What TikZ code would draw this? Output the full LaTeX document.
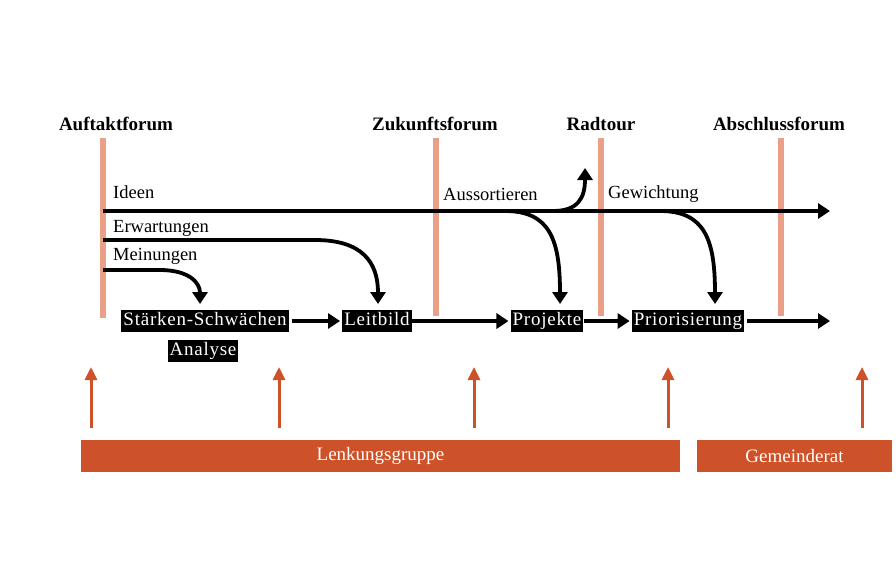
\documentclass[tikz,border=0pt]{standalone}
\usepackage{fontspec}
\setmainfont{Liberation Serif}
\usetikzlibrary{arrows.meta}
\definecolor{pinkbar}{RGB}{233,160,135}
\definecolor{rust}{RGB}{205,82,42}
\begin{document}
\begin{tikzpicture}[x=1pt,y=-1pt,
  title/.style={font=\fontsize{19}{19}\selectfont\bfseries, inner sep=0pt},
  lbl/.style={font=\fontsize{18.5}{18.5}\selectfont, inner sep=0pt, anchor=west},
  blk/.style={fill=black, text=white, font=\fontsize{19}{19}\selectfont\addfontfeature{LetterSpace=4}, inner xsep=2pt, inner ysep=2.5pt, text height=13pt, text depth=4pt},
  phase/.style={draw=pinkbar, line width=6pt},
  flow/.style={line width=3.8pt, -{Triangle[width=15pt,length=12pt]}},
  up/.style={draw=rust, line width=3pt, -{Triangle[width=12pt,length=13pt]}},
  bar/.style={fill=rust, text=white, font=\fontsize{19}{19}\selectfont, inner sep=0pt, minimum height=32pt}
]
\useasboundingbox (0,0) rectangle (896,571);
\fill[white] (0,0) rectangle (896,571);
% titles
\node[title] (t1) at (116,124) {Auftaktforum};
\node[title] (t2) at (435,124) {Zukunftsforum};
\node[title] (t3) at (601,124) {Radtour};
\node[title] (t4) at (779,124) {Abschlussforum};
% phase bars
\coordinate (p1a) at (103,138); \coordinate (p1b) at (103,318);
\coordinate (p2a) at (436,138); \coordinate (p2b) at (436,316);
\coordinate (p3a) at (601,138); \coordinate (p3b) at (601,316);
\coordinate (p4a) at (781,138); \coordinate (p4b) at (781,316);
\draw[phase] (p1a) -- (p1b);
\draw[phase] (p2a) -- (p2b);
\draw[phase] (p3a) -- (p3b);
\draw[phase] (p4a) -- (p4b);
% labels
\node[lbl] (ideen) at (113,192) {Ideen};
\node[lbl] (erw) at (113,228) {Erwartungen};
\node[lbl] (mein) at (113,256) {Meinungen};
\node[lbl] (aus) at (443,194) {Aussortieren};
\node[lbl] (gew) at (608,194) {Gewichtung};
% boxes
\node[blk] (ssa) at (205,321) {Stärken-Schwächen};
\node[blk] (ana) at (203,351) {Analyse};
\node[blk] (leit) at (377,321) {Leitbild};
\node[blk] (proj) at (547,321) {Projekte};
\node[blk] (prio) at (688,321) {Priorisierung};
% coordinates for main line
\coordinate (i0) at (103,211);
\coordinate (iend) at (830,211);
\coordinate (e0) at (103,240);
\coordinate (m0) at (103,270);
\coordinate (bend) at (830,321);
\coordinate (rt) at (585,168);
% flows
\draw[flow] (i0) -- (iend);
\draw[flow] (e0) -- (315,240) .. controls (362,240) and (378,262) .. (378,304);
\draw[flow] (m0) -- (160,270) .. controls (188,270) and (200,282) .. (200,304);
\draw[flow] (505,211) .. controls (550,211) and (560,240) .. (560,304);
\draw[flow] (553,211) .. controls (578,211) and (585,198) .. (rt);
\draw[flow] (660,211) .. controls (705,211) and (715,240) .. (715,304);
\draw[flow] ([xshift=3pt]ssa.east) -- ([xshift=-2pt]leit.west);
\draw[flow] (leit) -- ([xshift=-2pt]proj.west);
\draw[flow] (proj) -- ([xshift=-2pt]prio.west);
\draw[flow] ([xshift=3pt]prio.east) -- (bend);
% bottom bars
\node[bar, minimum width=599pt] (lenk) at (380.5,456) {Lenkungsgruppe};
\node[bar, minimum width=195pt] (gem) at (794.5,456) {Gemeinderat};
\foreach \x/\n in {91/a,279/b,474/c,668/d,862/e}{
  \coordinate (u\n0) at (\x,428);
  \coordinate (u\n1) at (\x,367);
  \draw[up] (u\n0) -- (u\n1);
}
\end{tikzpicture}
\end{document}
